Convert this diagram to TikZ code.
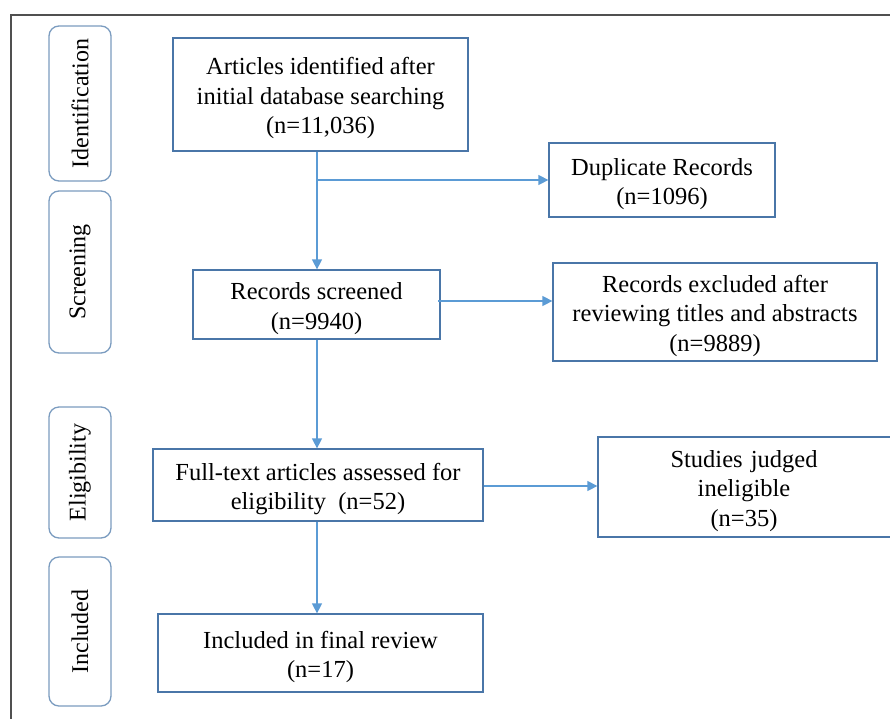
\documentclass[tikz,border=0pt]{standalone}
\usepackage{fontspec}
\setmainfont{Liberation Serif}
\usetikzlibrary{arrows.meta}
\definecolor{boxc}{HTML}{4A76A8}
\definecolor{arrc}{HTML}{5B9BD5}
\definecolor{stagec}{HTML}{7B9CC0}
\definecolor{framec}{HTML}{505050}
\newcommand{\boxtext}[1]{\raisebox{-4pt}[\height][\depth]{\begin{tabular}{@{}c@{}}#1\end{tabular}}}
\tikzset{
  box/.style={draw=boxc, line width=1.3pt, fill=white, align=center, inner sep=0pt,
    font=\fontsize{24.5}{29.5}\selectfont},
  stage/.style={draw=stagec, line width=1.3pt, rounded corners=10pt, fill=white,
    inner sep=0pt},
  stagelbl/.style={rotate=90, font=\fontsize{24}{28}\selectfont},
  arr/.style={draw=arrc, line width=1.4pt, -{Triangle[length=10pt,width=10pt]}},
}
\begin{document}
\begin{tikzpicture}[x=1pt,y=-1pt]
\clip (0,0) rectangle (890,718);
\fill[white] (0,0) rectangle (890,718);
\draw[framec, line width=2pt] (11,730) -- (11,15) -- (900,15);

% stage boxes
\node[stage, minimum width=62pt, minimum height=155pt] (st1) at (80,103.5) {};
\node[stagelbl] (l1) at (st1.center) {Identification};
\node[stage, minimum width=62pt, minimum height=162pt] (st2) at (80,272) {};
\node[stagelbl] (l2) at (st2.center) {Screening};
\node[stage, minimum width=62pt, minimum height=131pt] (st3) at (80,472.5) {};
\node[stagelbl] (l3) at (st3.center) {Eligibility};
\node[stage, minimum width=62pt, minimum height=149pt] (st4) at (80,631.5) {};
\node[stagelbl] (l4) at (st4.center) {Included};

% main boxes
\node[box, minimum width=295pt, minimum height=113pt] (A) at (320.5,94.5)
  {\boxtext{Articles identified after\\initial database searching\\(n=11,036)}};
\node[box, minimum width=226pt, minimum height=74pt] (D) at (662,180)
  {\boxtext{Duplicate Records\\(n=1096)}};
\node[box, minimum width=247pt, minimum height=69pt] (S) at (316.5,304.5)
  {\boxtext{Records screened\\(n=9940)}};
\node[box, minimum width=324pt, minimum height=98pt] (E) at (715,312)
  {\boxtext{Records excluded after\\reviewing titles and abstracts\\(n=9889)}};
\node[box, minimum width=330pt, minimum height=72pt] (F) at (318,485)
  {\boxtext{Full-text articles assessed for\\eligibility~ (n=52)}};
\node[box, minimum width=310pt, minimum height=100pt, text width=292pt] (J) at (753,487)
  {\hspace*{-18pt}\boxtext{Studies judged\\ineligible\\(n=35)}};
\node[box, minimum width=325pt, minimum height=78pt] (I) at (320.5,653)
  {\boxtext{Included in final review\\(n=17)}};

% connectors
\coordinate (j1) at (317,180);
\coordinate (j2) at (438,301);
\coordinate (j3) at (483,486);
\draw[arr] (A.south -| j1) -- (S.north -| j1);
\draw[arr] (j1) -- (D.west |- j1);
\draw[arr] (S.south -| j1) -- (F.north -| j1);
\draw[arr] (j2) -- (E.west |- j2);
\draw[arr] (F.south -| j1) -- (I.north -| j1);
\draw[arr] (F.east |- j3) -- (J.west |- j3);
\end{tikzpicture}
\end{document}
